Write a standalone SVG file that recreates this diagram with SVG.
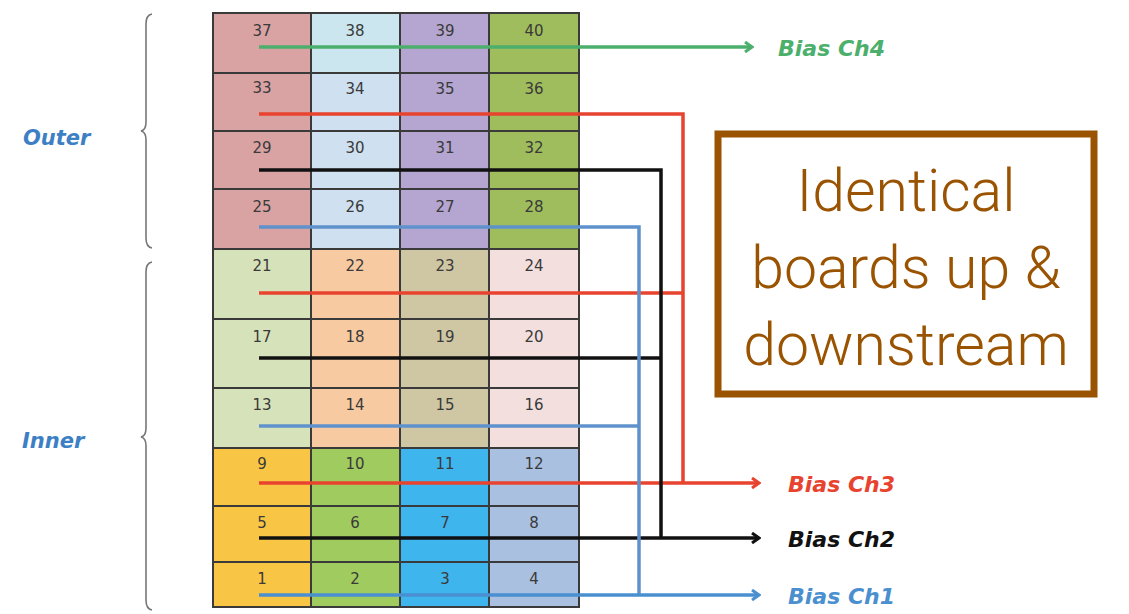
<svg xmlns="http://www.w3.org/2000/svg" width="1129" height="614" viewBox="0 0 1129 614">
<defs>
<style>
.num{font-family:"DejaVu Sans","Liberation Sans",sans-serif;font-size:15px;fill:#3a3a3a;text-anchor:middle}
.grid{stroke:#3a3a3a;stroke-width:2;fill:none}
.lbl{font-family:"DejaVu Sans","Liberation Sans",sans-serif;font-size:22px;font-weight:bold;font-style:italic}
.side{font-family:"DejaVu Sans","Liberation Sans",sans-serif;font-size:21px;font-weight:bold;font-style:italic;fill:#3d7fc4}
.brace{stroke:#777;stroke-width:1.6;fill:none}
.wire{fill:none;stroke-width:3.5;stroke-linejoin:miter}
.note{font-family:"Roboto","Liberation Sans",sans-serif;font-weight:300;font-size:59px;fill:#9a5300;text-anchor:middle}
</style>
<marker id="ag" viewBox="0 0 12 12" refX="10" refY="6" markerWidth="12" markerHeight="12" markerUnits="userSpaceOnUse" orient="auto"><path d="M3 1 L10 6 L3 11" fill="none" stroke="#4caf6c" stroke-width="3"/></marker>
<marker id="ar" viewBox="0 0 12 12" refX="10" refY="6" markerWidth="12" markerHeight="12" markerUnits="userSpaceOnUse" orient="auto"><path d="M3 1 L10 6 L3 11" fill="none" stroke="#e8432f" stroke-width="3"/></marker>
<marker id="ak" viewBox="0 0 12 12" refX="10" refY="6" markerWidth="12" markerHeight="12" markerUnits="userSpaceOnUse" orient="auto"><path d="M3 1 L10 6 L3 11" fill="none" stroke="#111" stroke-width="3"/></marker>
<marker id="ab" viewBox="0 0 12 12" refX="10" refY="6" markerWidth="12" markerHeight="12" markerUnits="userSpaceOnUse" orient="auto"><path d="M3 1 L10 6 L3 11" fill="none" stroke="#4a8fd0" stroke-width="3"/></marker>
</defs>
<rect width="1129" height="614" fill="#ffffff"/>

<g id="outer-label">
<path class="brace" d="M152 14 Q146 15 146 24 L146 122 Q146 130 141 131 Q146 132 146 140 L146 238 Q146 247 152 248"/>
<text class="side" x="23" y="145">Outer</text>
</g>
<g id="inner-label">
<path class="brace" d="M152 262 Q146 263 146 272 L146 428 Q146 436 141 437 Q146 438 146 446 L146 600 Q146 609 152 610"/>
<text class="side" x="22" y="448">Inner</text>
</g>

<g id="grid-fill">
<rect x="213" y="13" width="98" height="236" fill="#d9a3a3"/>
<rect x="311" y="13" width="89" height="60" fill="#cbe6ee"/>
<rect x="311" y="73" width="89" height="176" fill="#cfe1f1"/>
<rect x="400" y="13" width="89" height="236" fill="#b4a6d0"/>
<rect x="489" y="13" width="90" height="236" fill="#9fbd5c"/>
<rect x="213" y="249" width="98" height="199" fill="#d6e2b9"/>
<rect x="311" y="249" width="89" height="199" fill="#f8caa2"/>
<rect x="400" y="249" width="89" height="199" fill="#cfc6a4"/>
<rect x="489" y="249" width="90" height="199" fill="#f2dfde"/>
<rect x="213" y="448" width="98" height="159" fill="#f8c644"/>
<rect x="311" y="448" width="89" height="159" fill="#a0cc5f"/>
<rect x="400" y="448" width="89" height="159" fill="#3fb5ee"/>
<rect x="489" y="448" width="90" height="159" fill="#a9c0e1"/>
</g>
<g id="grid-lines">
<rect class="grid" x="213" y="13" width="366" height="594"/>
<path class="grid" d="M311 13 V607 M400 13 V607 M489 13 V607 M213 73 H579 M213 131 H579 M213 189 H579 M213 249 H579 M213 319 H579 M213 388 H579 M213 448 H579 M213 506 H579 M213 562 H579"/>
</g>

<g id="cell-numbers">
<text class="num" x="262" y="36">37</text><text class="num" x="355" y="36">38</text><text class="num" x="445" y="36">39</text><text class="num" x="534" y="36">40</text>
<text class="num" x="262" y="93">33</text><text class="num" x="355" y="94">34</text><text class="num" x="445" y="94">35</text><text class="num" x="534" y="94">36</text>
<text class="num" x="262" y="153">29</text><text class="num" x="355" y="153">30</text><text class="num" x="445" y="153">31</text><text class="num" x="534" y="153">32</text>
<text class="num" x="262" y="212">25</text><text class="num" x="355" y="212">26</text><text class="num" x="445" y="212">27</text><text class="num" x="534" y="212">28</text>
<text class="num" x="262" y="271">21</text><text class="num" x="355" y="271">22</text><text class="num" x="445" y="271">23</text><text class="num" x="534" y="271">24</text>
<text class="num" x="262" y="342">17</text><text class="num" x="355" y="342">18</text><text class="num" x="445" y="342">19</text><text class="num" x="534" y="342">20</text>
<text class="num" x="262" y="410">13</text><text class="num" x="355" y="410">14</text><text class="num" x="445" y="410">15</text><text class="num" x="534" y="410">16</text>
<text class="num" x="262" y="469">9</text><text class="num" x="355" y="469">10</text><text class="num" x="445" y="469">11</text><text class="num" x="534" y="469">12</text>
<text class="num" x="262" y="528">5</text><text class="num" x="355" y="528">6</text><text class="num" x="445" y="528">7</text><text class="num" x="534" y="528">8</text>
<text class="num" x="262" y="584">1</text><text class="num" x="355" y="584">2</text><text class="num" x="445" y="584">3</text><text class="num" x="534" y="584">4</text>
</g>

<g id="connectors">
<path class="wire" stroke="#4caf6c" stroke-width="3" d="M259 47 H752" marker-end="url(#ag)"/>
<path class="wire" stroke="#e8432f" d="M259 114 H683 V483"/>
<path class="wire" stroke="#e8432f" d="M259 293 H683"/>
<path class="wire" stroke="#e8432f" d="M259 483 H759" marker-end="url(#ar)"/>
<path class="wire" stroke="#111111" d="M259 170 H661 V538"/>
<path class="wire" stroke="#111111" d="M259 358 H661"/>
<path class="wire" stroke="#111111" d="M259 538 H759" marker-end="url(#ak)"/>
<path class="wire" stroke="#5f92cc" d="M259 227 H639 V595"/>
<path class="wire" stroke="#5f92cc" d="M259 426 H639"/>
<path class="wire" stroke="#4a8fd0" d="M259 595 H759" marker-end="url(#ab)"/>
</g>

<g id="bias-ch4"><text class="lbl" x="778" y="56" fill="#4caf6c">Bias Ch4</text></g>
<g id="bias-ch3"><text class="lbl" x="788" y="492" fill="#e8432f">Bias Ch3</text></g>
<g id="bias-ch2"><text class="lbl" x="788" y="547" fill="#111111">Bias Ch2</text></g>
<g id="bias-ch1"><text class="lbl" x="788" y="604" fill="#4a8fd0">Bias Ch1</text></g>

<g id="note">
<rect x="718" y="134" width="376" height="260" fill="#ffffff" stroke="#9a5300" stroke-width="7"/>
<text class="note" x="906" y="211">Identical</text>
<text class="note" x="906" y="288">boards up &amp;</text>
<text class="note" x="906" y="365">downstream</text>
</g>
</svg>
